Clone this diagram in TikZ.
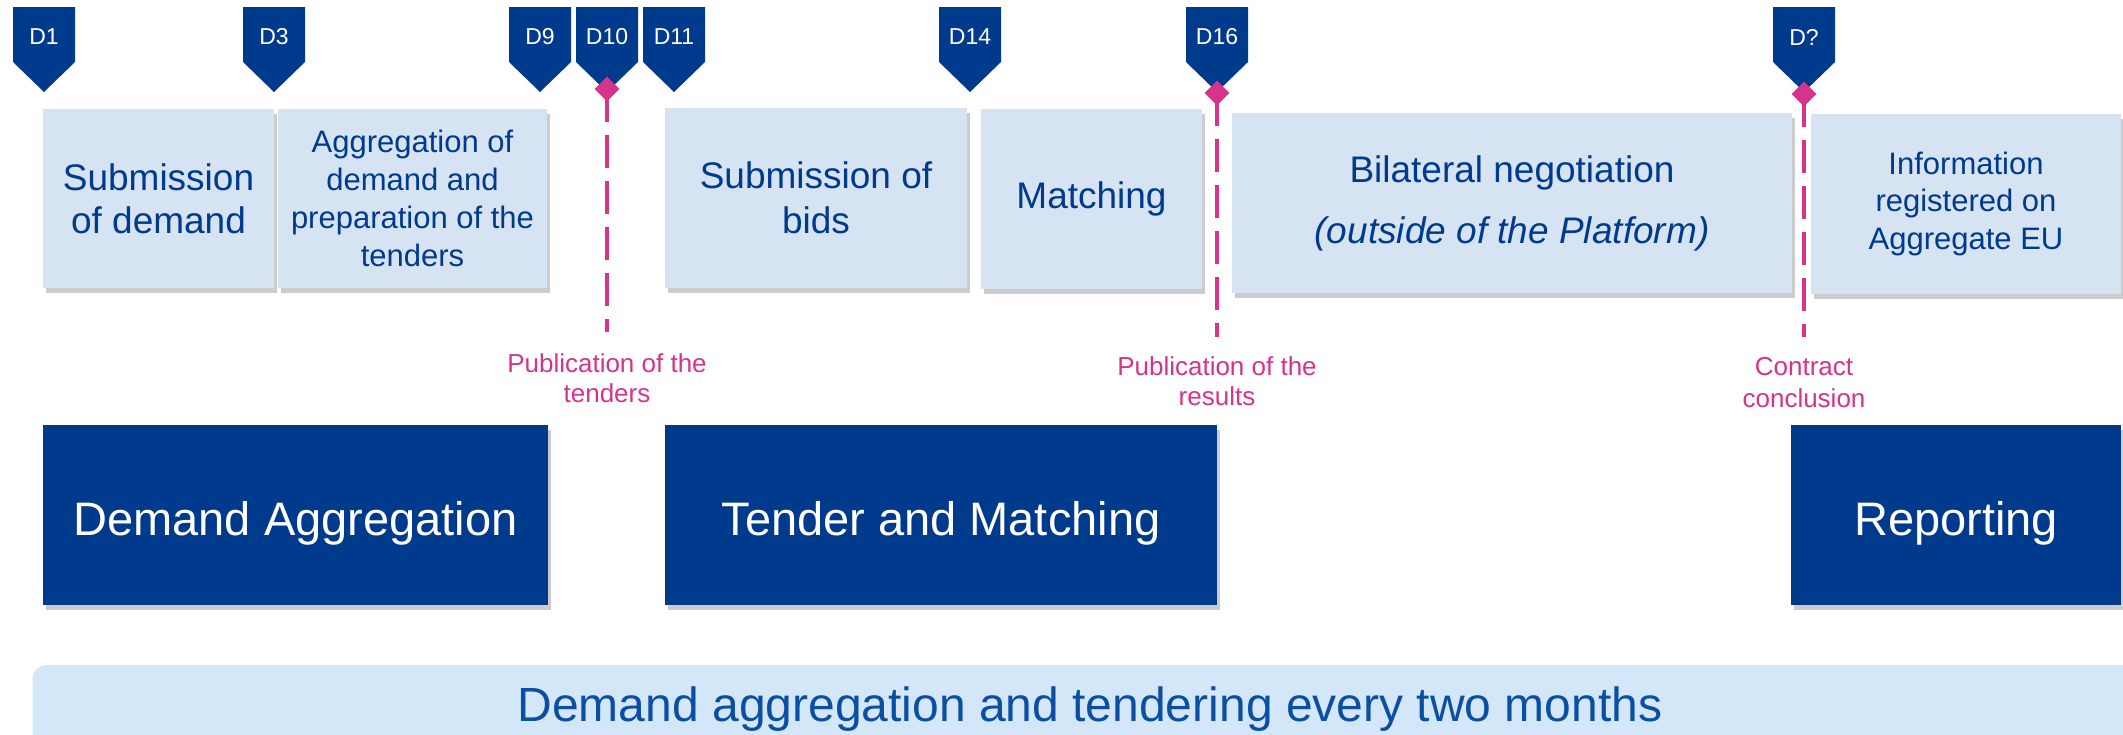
\documentclass[tikz,border=0pt]{standalone}
\usepackage{fontspec}
\setmainfont{Liberation Sans}
\usetikzlibrary{shadows,shapes.geometric}
\definecolor{dblue}{HTML}{003A8C}
\definecolor{lboxc}{HTML}{D5E3F2}
\definecolor{bandc}{HTML}{D4E7F8}
\definecolor{bandtext}{HTML}{0B4FA3}
\definecolor{mag}{HTML}{D6338A}
\tikzset{
  lightbox/.style={fill=lboxc, draw=none, inner sep=0pt, align=center, text=dblue,
    drop shadow={opacity=0.4, shadow xshift=3pt, shadow yshift=-5pt}},
  darkbox/.style={fill=dblue, draw=none, inner sep=0pt, text=white,
    font=\fontsize{47}{56}\selectfont, text height=40pt, text depth=0pt,
    drop shadow={opacity=0.4, shadow xshift=3pt, shadow yshift=-5pt}},
  marktext/.style={text=white, font=\fontsize{23}{27}\selectfont, inner sep=0pt},
  pinklabel/.style={text=mag, align=center, font=\fontsize{26}{30}\selectfont, inner sep=0pt},
  pinkdash/.style={draw=mag, line width=4pt, dash pattern=on 33pt off 13pt},
  diam/.style={diamond, fill=mag, draw=none, minimum width=25pt, minimum height=25pt, inner sep=0pt},
}
\newcommand\dmark[3]{%
  \fill[dblue] ({#2-31},7) -- ({#2+31},7) -- ({#2+31},62) -- (#2,92) -- ({#2-31},62) -- cycle;
  \node[marktext] (#1) at (#2,37) {#3};}
\begin{document}
\begin{tikzpicture}[x=1pt,y=-1pt]
\useasboundingbox (0,0) rectangle (2123,734);
\clip (0,0) rectangle (2123,734);

% bottom band
\node[fill=bandc, rounded corners=14pt, minimum width=2115pt, minimum height=95pt, inner sep=0pt,
  text=bandtext, font=\fontsize{48}{56}\selectfont, text height=17pt, text depth=0pt]
  (band) at (1090,712.5) {Demand aggregation and tendering every two months};

% light boxes
\node[lightbox, minimum width=231pt, minimum height=179pt, font=\fontsize{37}{43}\selectfont]
  (subdem) at (158.5,198.5) {Submission\\of demand};
\node[lightbox, minimum width=269pt, minimum height=179pt, font=\fontsize{31}{38}\selectfont]
  (aggr) at (412.5,198.5) {Aggregation of\\demand and\\preparation of the\\tenders};
\node[lightbox, minimum width=302pt, minimum height=180pt, font=\fontsize{37}{45}\selectfont]
  (bids) at (816,198) {Submission of\\bids};
\node[lightbox, minimum width=221pt, minimum height=180pt, font=\fontsize{37}{45}\selectfont]
  (match) at (1091.5,199) {Matching};
\node[lightbox, minimum width=560pt, minimum height=180pt, font=\fontsize{37}{61}\selectfont]
  (bilat) at (1512,203) {Bilateral negotiation\\\textit{(outside of the Platform)}};
\node[lightbox, minimum width=310pt, minimum height=180pt, font=\fontsize{31}{37.5}\selectfont]
  (info) at (1966,203.5) {Information\\registered on\\Aggregate EU};

% dark boxes
\node[darkbox, minimum width=505pt, minimum height=180pt] (da) at (295.5,515) {Demand Aggregation};
\node[darkbox, minimum width=552pt, minimum height=180pt] (tm) at (941,515) {Tender and Matching};
\node[darkbox, minimum width=330pt, minimum height=180pt] (rep) at (1956,515) {Reporting};

% day markers
\dmark{m1}{44}{D1}
\dmark{m3}{274}{D3}
\dmark{m9}{540}{D9}
\dmark{m10}{607}{D10}
\dmark{m11}{674}{D11}
\dmark{m14}{970}{D14}
\dmark{m16}{1217}{D16}
\dmark{mq}{1804}{D?}

% milestones
\coordinate (p10) at (607,89);  \coordinate (e10) at (607,332);
\coordinate (p16) at (1217,93); \coordinate (e16) at (1217,337);
\coordinate (pq)  at (1804,94); \coordinate (eq)  at (1804,337);
\draw[pinkdash] (p10) -- (e10);
\draw[pinkdash] (p16) -- (e16);
\draw[pinkdash] (pq) -- (eq);
\node[diam] (q10) at (p10) {};
\node[diam] (q16) at (p16) {};
\node[diam] (qq) at (pq) {};

\node[pinklabel] (l10) at (607,378.5) {Publication of the\\tenders};
\node[pinklabel] (l16) at (1217,381.5) {Publication of the\\results};
\node[pinklabel, font=\fontsize{26}{32}\selectfont] (lq) at (1804,382.5) {Contract\\conclusion};
\end{tikzpicture}
\end{document}
